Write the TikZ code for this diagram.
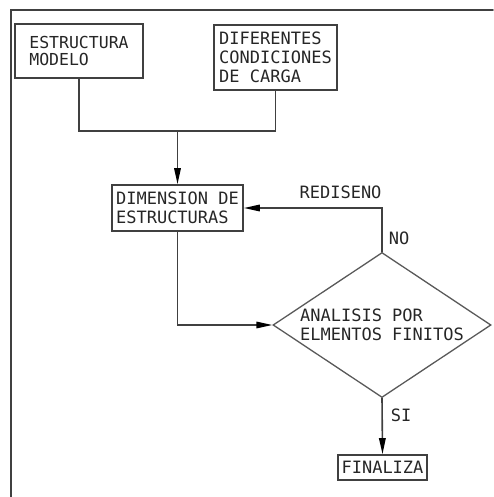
\documentclass[tikz,border=0pt]{standalone}
\usepackage{fontspec}
\setmonofont{DejaVu Sans Mono}
\usetikzlibrary{arrows.meta,shapes.geometric}

\begin{document}
\begin{tikzpicture}[x=1pt,y=-1pt,>={Triangle[length=16pt,width=6.5pt,color=black]},
  font=\ttfamily\fontsize{17}{19}\selectfont,line cap=round,
  caja/.style={draw=black!75,line width=1.6pt,align=left,inner sep=0pt,text=black!85},
  rombo/.style={diamond,draw=black!65,line width=1.3pt,aspect=1.5,inner sep=0pt,align=left,text=black!85},
  linea/.style={draw=black!75,line width=1.6pt},
  etiqueta/.style={text=black!85,inner sep=0pt}]
\useasboundingbox (0,0) rectangle (493,497);
% marco
\draw[linea] (11,497) -- (11,10) -- (493,10);
% cajas
\node[caja,minimum width=128pt,minimum height=54pt,font=\ttfamily\fontsize{16.5}{17}\selectfont] (estructura) at (79,51) {ESTRUCTURA\\MODELO};
\node[caja,minimum width=123pt,minimum height=65pt] (cargas) at (275.5,57.5) {DIFERENTES\\CONDICIONES\\DE CARGA};
\node[caja,minimum width=131pt,minimum height=46pt] (dimension) at (177.5,208) {DIMENSION DE\\ESTRUCTURAS};
\node[rombo,minimum width=218pt,minimum height=145pt] (analisis) at (382,325) {ANALISIS POR\\ELMENTOS FINITOS};
\node[caja,minimum width=89pt,minimum height=25pt] (finaliza) at (382.5,467.5) {FINALIZA};
\coordinate (union) at (177.5,131);
% conectores
\draw[linea] (estructura.south) |- (union) -| (cargas.south);
\draw[linea,->] (union) -- (dimension.north);
\draw[linea,->] (analisis.north) |- (dimension.east)
  node[etiqueta,pos=0.16,right=6pt] (no) {NO}
  node[etiqueta,pos=0.65,above=8pt] (rediseno) {REDISENO};
\draw[linea,->] (dimension.south) |- (analisis.west);
\draw[linea,->] (analisis.south) -- (finaliza.north)
  node[etiqueta,pos=0.3,right=8pt] (si) {SI};
\end{tikzpicture}
\end{document}
